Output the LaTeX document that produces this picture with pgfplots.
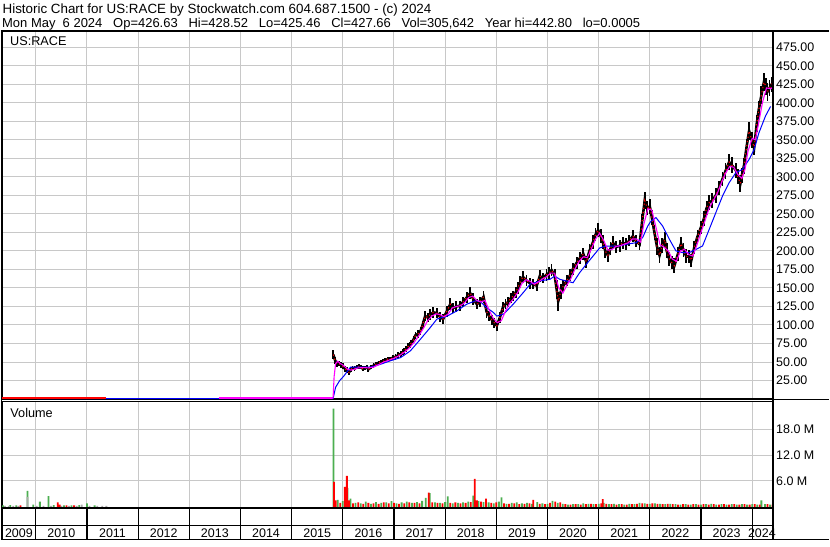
\documentclass[border=0pt]{standalone}
\usepackage{pgfplots}
\usepackage{pgfplotstable}
\pgfplotsset{compat=1.18}
\usepackage{fontspec}
\setmainfont{Liberation Sans}
\definecolor{gridc}{RGB}{200,200,200}
\definecolor{vgreen}{RGB}{76,175,80}
\definecolor{vred}{RGB}{255,0,0}
\definecolor{mag}{RGB}{255,0,255}
\definecolor{mablue}{RGB}{0,0,255}
\definecolor{vgray}{RGB}{170,170,170}

\pgfplotstableread{
x y e
2015.816 60 6
2015.85 52 5
2015.894 47 4
2015.93 48 4
2015.958 46 4
2016.00 44 4
2016.04 41 4
2016.08 39 4
2016.12 36 4
2016.16 40 3
2016.19 42 3
2016.23 41 3
2016.27 43 3
2016.31 44 3
2016.35 43 3
2016.39 41 3
2016.43 42 3
2016.47 43 3
2016.50 40 3
2016.55 43 3
2016.60 45 3
2016.65 47 3
2016.70 49 3
2016.74 50 3
2016.79 51 3
2016.83 52 3
2016.88 54 3
2016.93 54 3
2016.98 56 3
2017.03 57 4
2017.08 59 4
2017.13 61 4
2017.17 63 4
2017.20 65 4
2017.24 68 4
2017.28 71 4
2017.31 73 4
2017.34 76 4
2017.38 80 5
2017.42 86 5
2017.47 88 5
2017.52 92 5
2017.56 100 6
2017.61 112 7
2017.66 110 6
2017.71 114 7
2017.77 117 7
2017.84 116 7
2017.90 111 7
2017.96 108 7
2018.03 118 7
2018.10 128 8
2018.16 123 7
2018.22 125 7
2018.29 126 7
2018.35 131 7
2018.42 137 8
2018.49 143 8
2018.55 135 8
2018.62 128 7
2018.68 131 7
2018.75 138 8
2018.81 118 8
2018.86 112 7
2018.91 107 7
2018.96 103 7
2019.01 99 7
2019.07 110 7
2019.13 124 7
2019.18 128 7
2019.23 131 7
2019.28 136 7
2019.33 139 7
2019.38 144 7
2019.42 150 8
2019.47 158 8
2019.52 165 8
2019.59 160 8
2019.66 156 8
2019.72 155 7
2019.79 153 7
2019.85 166 8
2019.92 163 7
2019.98 168 8
2020.03 170 8
2020.08 174 8
2020.14 167 8
2020.18 148 13
2020.21 132 13
2020.26 145 10
2020.31 153 8
2020.38 160 8
2020.44 167 8
2020.50 176 8
2020.57 184 8
2020.63 190 8
2020.70 196 8
2020.76 185 8
2020.82 200 9
2020.89 212 9
2020.94 222 9
2020.99 228 9
2021.04 220 9
2021.08 212 9
2021.13 200 9
2021.18 194 9
2021.23 203 9
2021.28 211 9
2021.34 205 8
2021.41 207 8
2021.47 211 8
2021.54 209 8
2021.60 214 8
2021.67 220 8
2021.73 213 8
2021.80 209 8
2021.85 240 10
2021.90 268 11
2021.95 258 10
2022.00 260 10
2022.04 245 10
2022.09 225 10
2022.14 206 11
2022.19 194 11
2022.24 207 10
2022.29 215 10
2022.33 200 10
2022.38 189 10
2022.43 184 9
2022.48 180 10
2022.55 196 9
2022.61 210 9
2022.66 201 9
2022.71 193 9
2022.76 192 9
2022.81 187 9
2022.87 205 9
2022.93 219 9
2023.00 232 9
2023.06 244 10
2023.11 258 10
2023.16 265 10
2023.22 268 10
2023.29 275 10
2023.35 285 10
2023.42 297 10
2023.48 308 11
2023.55 320 11
2023.60 316 11
2023.68 309 10
2023.72 300 10
2023.77 291 11
2023.80 302 10
2023.84 315 11
2023.89 340 11
2023.94 362 12
2023.99 350 11
2024.04 340 11
2024.09 372 12
2024.13 391 12
2024.18 410 12
2024.23 428 12
2024.27 422 12
2024.30 415 12
2024.34 420 11
2024.38 425 10
2024.41 427 6
}\price

\pgfplotstableread{
x y
2015.81 0.9
2015.83 30
2015.86 48
2015.90 51
2015.95 48
2016.00 46
2016.05 43
2016.10 40
2016.16 39
2016.22 40
2016.30 42
2016.40 42.5
2016.50 42
2016.60 43
2016.70 46.5
2016.80 50
2016.90 52.5
2017.00 55
2017.10 58.5
2017.20 63
2017.30 69
2017.40 77
2017.50 87
2017.58 96
2017.66 106
2017.74 112
2017.82 115
2017.90 114
2017.98 111
2018.06 115
2018.14 123
2018.22 125
2018.30 126
2018.38 130
2018.46 137
2018.54 139
2018.62 133
2018.70 131
2018.78 133
2018.86 120
2018.94 109
2019.02 103
2019.10 106
2019.18 119
2019.26 129
2019.34 136
2019.42 144
2019.50 156
2019.58 161
2019.66 159
2019.74 155
2019.82 158
2019.90 162
2019.98 165
2020.06 170
2020.14 170
2020.22 150
2020.30 143
2020.38 154
2020.46 163
2020.54 176
2020.62 186
2020.70 192
2020.78 191
2020.86 203
2020.94 216
2021.02 224
2021.10 214
2021.18 201
2021.26 202
2021.34 206
2021.42 207
2021.50 209
2021.58 211
2021.66 216
2021.74 216
2021.82 212
2021.88 235
2021.96 257
2022.04 255
2022.12 232
2022.20 208
2022.28 205
2022.36 200
2022.44 189
2022.52 186
2022.60 200
2022.68 202
2022.76 195
2022.84 193
2022.92 208
2023.00 225
2023.08 241
2023.16 258
2023.24 268
2023.32 278
2023.40 292
2023.48 305
2023.56 314
2023.64 313
2023.72 303
2023.80 298
2023.86 310
2023.92 335
2024.00 352
2024.06 350
2024.12 370
2024.20 400
2024.28 420
2024.36 419
2024.41 421
}\mashort

\pgfplotstableread{
x y
2015.81 0.5
2015.86 16
2015.94 25
2016.02 31
2016.15 43
2016.35 43
2016.54 43
2016.74 47
2016.93 51.6
2017.13 56
2017.32 65
2017.52 81
2017.71 96.6
2017.84 108
2018.04 112
2018.23 119
2018.42 128
2018.59 132.5
2018.68 132
2018.81 123.5
2018.94 117
2019.01 112
2019.14 114.5
2019.33 128
2019.53 144
2019.66 155
2019.85 159.4
2020.05 161.7
2020.14 166
2020.24 161.7
2020.37 159.4
2020.50 157
2020.63 170.7
2020.76 182
2020.89 193
2021.02 204
2021.15 206.6
2021.28 206.6
2021.41 206.6
2021.54 209
2021.73 211
2021.86 218
2021.96 233.6
2022.02 240
2022.12 245
2022.25 233.6
2022.38 216
2022.51 200
2022.64 197.7
2022.77 197.7
2022.90 202
2023.03 206.6
2023.16 229
2023.29 251.6
2023.42 274
2023.55 292
2023.68 305.5
2023.81 310
2023.94 323.5
2024.04 337
2024.13 359
2024.26 382
2024.36 395
}\malong

\pgfplotstableread{
x v
2009.36 0.3
2009.50 0.4
2009.62 0.3
2009.84 3.7
2009.95 0.5
2010.08 1.2
2010.25 2.5
2010.35 0.4
2010.55 0.3
2010.70 0.3
2010.85 0.4
2011.00 0.8
2011.15 0.3
2015.82 22.8
2015.90 1.6
2016.00 1.3
2016.09 4.4
2016.15 1.9
2016.25 0.9
2016.35 0.8
2016.45 1.2
2016.55 0.7
2016.65 1.1
2016.75 0.9
2016.85 1.0
2016.95 1.3
2017.05 0.8
2017.15 1.0
2017.25 1.2
2017.35 0.9
2017.45 1.1
2017.55 1.4
2017.62 2.1
2017.70 3.2
2017.80 1.0
2017.90 0.9
2018.00 1.1
2018.05 2.4
2018.15 0.8
2018.25 0.9
2018.35 1.0
2018.45 1.2
2018.55 2.6
2018.65 1.3
2018.75 1.1
2018.85 1.0
2018.95 0.8
2019.05 1.2
2019.10 2.2
2019.20 0.7
2019.30 0.9
2019.40 1.0
2019.50 0.8
2019.60 0.9
2019.70 0.7
2019.80 1.1
2019.90 0.8
2020.00 0.7
2020.10 1.4
2020.20 0.9
2020.30 0.7
2020.40 0.5
2020.50 0.6
2020.60 0.6
2020.70 0.8
2020.80 0.7
2020.90 0.6
2021.00 0.7
2021.10 0.9
2021.20 0.6
2021.30 0.7
2021.40 0.6
2021.50 0.5
2021.60 0.7
2021.70 0.6
2021.80 0.9
2021.90 0.8
2022.00 0.7
2022.10 0.8
2022.20 0.7
2022.30 0.6
2022.40 0.7
2022.50 0.6
2022.60 0.5
2022.70 0.6
2022.80 0.5
2022.90 0.6
2023.00 0.5
2023.10 0.6
2023.20 0.7
2023.30 0.5
2023.40 0.6
2023.50 0.5
2023.60 0.6
2023.70 0.5
2023.80 0.6
2023.90 0.5
2024.00 0.6
2024.10 0.5
2024.18 1.5
2024.25 0.6
2024.35 0.5
}\volgreen

\pgfplotstableread{
x v
2009.70 0.3
2010.43 1.0
2010.47 0.5
2010.60 0.3
2010.75 0.3
2015.83 5.8
2015.86 1.5
2015.95 0.9
2016.04 4.6
2016.08 7.2
2016.12 1.5
2016.20 0.8
2016.30 1.0
2016.40 0.7
2016.50 0.9
2016.60 0.8
2016.70 0.7
2016.80 1.0
2016.90 0.8
2017.00 0.9
2017.10 0.7
2017.20 0.8
2017.30 1.0
2017.40 0.9
2017.50 0.8
2017.68 3.3
2017.75 1.0
2017.85 0.9
2017.95 0.8
2018.10 0.9
2018.20 1.0
2018.30 0.8
2018.40 0.9
2018.50 1.1
2018.58 6.5
2018.62 1.5
2018.70 1.2
2018.80 1.9
2018.90 0.9
2019.00 1.0
2019.15 0.8
2019.25 0.7
2019.35 0.8
2019.45 0.6
2019.55 0.7
2019.65 0.8
2019.72 1.6
2019.85 0.7
2019.95 0.6
2020.05 0.9
2020.15 1.2
2020.25 1.0
2020.35 0.6
2020.45 0.5
2020.55 0.6
2020.65 0.5
2020.75 0.6
2020.85 0.7
2020.95 0.6
2021.05 0.8
2021.08 1.8
2021.15 0.7
2021.25 0.6
2021.35 0.5
2021.45 0.6
2021.55 0.5
2021.65 0.6
2021.75 0.7
2021.85 0.8
2021.95 0.7
2022.05 0.8
2022.15 0.7
2022.25 0.6
2022.35 0.7
2022.45 0.6
2022.55 0.5
2022.65 0.6
2022.75 0.5
2022.85 0.6
2022.95 0.5
2023.05 0.6
2023.15 0.5
2023.25 0.6
2023.35 0.5
2023.45 0.6
2023.55 0.5
2023.65 0.6
2023.75 0.5
2023.85 0.6
2023.95 0.5
2024.05 0.6
2024.15 0.5
2024.30 0.6
2024.40 0.5
}\volred

\pgfplotstableread{
x v
2009.40 0.2
2009.47 0.2
2009.56 0.2
2009.66 0.2
2009.84 2.3
2010.02 0.2
2010.15 0.2
2010.30 0.2
2010.50 0.2
2010.65 0.2
2010.80 0.2
2010.90 0.5
2011.05 0.2
2011.20 0.2
2011.30 0.2
2011.38 0.2
}\volgray

\newcommand{\fgap}{\hspace{0.834em}}
\newcommand{\ssp}{\hspace{0.278em}}

\begin{document}
\begin{tikzpicture}
\fill[white] (0,0) rectangle (830pt,543pt);
\pgfplotsset{every axis/.append style={scale only axis,
  font=\fontsize{12.5}{14}\selectfont,
  xmin=2009.34, xmax=2024.41,
  axis line style={line width=1.2pt},
  tick style={draw=none},
  major grid style={gridc, line width=1pt},
  xtick={2010,2011,2012,2013,2014,2015,2016,2017,2018,2019,2020,2021,2022,2023,2024},
  xticklabel=\empty,
  clip=true}}

% price panel
\begin{axis}[at={(1pt,512pt)}, anchor=north west, width=773pt, height=369pt,
  ymin=0, ymax=497,
  ytick={25,50,...,475},
  yticklabel pos=right,
  yticklabel style={anchor=west, xshift=-0.5pt, /pgf/number format/.cd, fixed, fixed zerofill, precision=2, assume math mode=true},
  xmajorgrids, ymajorgrids]
\addplot[black, line width=1.4pt] coordinates {(2010.02,0.4) (2015.81,0.4)};
\addplot[mablue, line width=1pt] coordinates {(2010.02,0.4) (2015.81,0.5)};
\addplot[vred, line width=1.6pt] coordinates {(2009.34,1.0) (2011.38,1.0)};
\addplot[mag, line width=1.6pt] coordinates {(2013.58,1.0) (2015.81,1.0)};
\addplot[black, line width=2.6pt, mark=none, error bars/.cd, y dir=both, y explicit, error mark=none, error bar style={line width=1.8pt, black}] table[x=x, y=y, y error=e] {\price};
\addplot[vred, line width=1.1pt, dash pattern=on 1.2pt off 3pt] table[x=x, y=y] {\price};
\addplot[mablue, line width=1pt] table[x=x, y=y] {\malong};
\addplot[mag, line width=1.1pt] table[x=x, y=y] {\mashort};
\end{axis}

% volume panel
\begin{axis}[at={(1pt,140.5pt)}, anchor=north west, width=773pt, height=106.5pt,
  ymin=-0.23, ymax=24.46,
  ytick={6,12,18}, yticklabels={6.0 M,12.0 M,18.0 M},
  yticklabel pos=right,
  yticklabel style={anchor=west, xshift=-0.5pt},
  xmajorgrids, ymajorgrids]
\addplot[ybar, bar width=1.8pt, bar shift=0pt, fill=vgreen, draw=none] table[x=x, y=v] {\volgreen};
\addplot[ybar, bar width=1.8pt, bar shift=0pt, fill=vgray, draw=none] table[x=x, y=v] {\volgray};
\addplot[ybar, bar width=1.8pt, bar shift=0pt, fill=vred, draw=none] table[x=x, y=v] {\volred};
\end{axis}

% date strip
\begin{axis}[at={(1pt,34pt)}, anchor=north west, width=773pt, height=32pt,
  ymin=0, ymax=2, ytick=\empty,
  xmajorgrids, major grid style={black, line width=1.2pt}]
\draw[black, line width=1.2pt] (axis cs:2009.34,0.875) -- (axis cs:2024.41,0.875);
\node at (axis cs:2009.67,0.4375) {2009};
\node at (axis cs:2010.5,0.4375) {2010};
\node at (axis cs:2011.5,0.4375) {2011};
\node at (axis cs:2012.5,0.4375) {2012};
\node at (axis cs:2013.5,0.4375) {2013};
\node at (axis cs:2014.5,0.4375) {2014};
\node at (axis cs:2015.5,0.4375) {2015};
\node at (axis cs:2016.5,0.4375) {2016};
\node at (axis cs:2017.5,0.4375) {2017};
\node at (axis cs:2018.5,0.4375) {2018};
\node at (axis cs:2019.5,0.4375) {2019};
\node at (axis cs:2020.5,0.4375) {2020};
\node at (axis cs:2021.5,0.4375) {2021};
\node at (axis cs:2022.5,0.4375) {2022};
\node at (axis cs:2023.5,0.4375) {2023};
\end{axis}

% frame lines
\draw[black, line width=2pt] (0,512pt) -- (830pt,512pt);
\draw[black, line width=2.2pt] (774pt,512pt) -- (774pt,2pt);
\draw[black, line width=1.3pt] (0,2pt) -- (830pt,2pt);
\draw[black, line width=1.3pt] (774pt,142.3pt) -- (830pt,142.3pt);
\draw[black, line width=1.2pt] (0.6pt,512pt) -- (0.6pt,2pt);
\draw[black, line width=1.8pt] (0,34pt) -- (774pt,34pt);
\node[font=\fontsize{12.5}{14}\selectfont] at (762.7pt,8.5pt) {2024};

% texts
\begin{scope}[every node/.style={inner sep=0pt, anchor=base west, font=\fontsize{12.7}{14}\selectfont}]
\node[font=\fontsize{13.4}{15}\selectfont] at (1.5pt,529.7pt) {Historic Chart for US:RACE by Stockwatch.com 604.687.1500 - (c) 2024};
\node[font=\fontsize{13}{15}\selectfont] at (1pt,515.7pt) {Mon\ssp May\ssp\ssp 6\ssp 2024\fgap Op=426.63\fgap Hi=428.52\fgap Lo=425.46\fgap Cl=427.66\fgap Vol=305,642\fgap Year\ssp hi=442.80\fgap lo=0.0005};
\node at (9pt,497.3pt) {US:RACE};
\node at (9.3pt,124.7pt) {Volume};
\end{scope}
\end{tikzpicture}
\end{document}
